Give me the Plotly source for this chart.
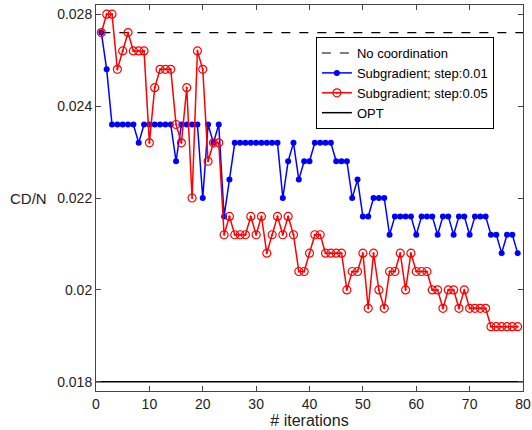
import plotly.graph_objects as go

# iterations 1..79
iters = list(range(1, 80))

# values in units of 1e-4 on the (uniform) plotted scale
blue_e4 = [256, 248, 236, 236, 236, 236, 236, 232, 236, 236,
           236, 236, 236, 236, 228, 236, 236, 236, 236, 220,
           236, 232, 236, 216, 224, 232, 232, 232, 232, 232,
           232, 232, 232, 232, 220, 228, 232, 224, 228, 228,
           232, 232, 232, 232, 228, 228, 228, 220, 224, 216,
           216, 220, 220, 220, 212, 216, 216, 216, 216, 212,
           216, 216, 216, 212, 216, 216, 212, 216, 216, 212,
           216, 216, 216, 212, 212, 208, 212, 212, 208]
red_e4 = [256, 260, 260, 248, 252, 256, 252, 252, 252, 232,
          244, 248, 248, 248, 236, 232, 244, 220, 252, 248,
          228, 232, 232, 212, 216, 212, 212, 212, 216, 212,
          216, 208, 212, 216, 212, 216, 212, 204, 204, 208,
          212, 212, 208, 208, 208, 208, 200, 204, 204, 208,
          196, 208, 200, 196, 204, 204, 208, 200, 208, 204,
          204, 204, 200, 200, 196, 200, 200, 196, 200, 196,
          196, 196, 196, 192, 192, 192, 192, 192, 192]
blue = [v * 1e-4 for v in blue_e4]
red = [v * 1e-4 for v in red_e4]

no_coord = 0.0256
opt = 0.0180

ytick_vals = [0.026, 0.024, 0.022, 0.020, 0.018]
ytick_text = ["0.028", "0.024", "0.022", "0.02", "0.018"]
xtick_vals = [0, 10, 20, 30, 40, 50, 60, 70, 80]

FONT = "Liberation Sans, Arial, sans-serif"

fig = go.Figure()
fig.add_trace(go.Scatter(x=[1, 80], y=[no_coord, no_coord], mode="lines",
                         line=dict(color="black", width=1.2, dash="dash"),
                         name="No coordination"))
fig.add_trace(go.Scatter(x=iters, y=blue, mode="lines+markers",
                         line=dict(color="#0000ff", width=1.5),
                         marker=dict(symbol="circle", size=6, color="#0000ff"),
                         name="Subgradient; step:0.01"))
fig.add_trace(go.Scatter(x=iters, y=red, mode="lines+markers",
                         line=dict(color="#ff0000", width=1.5),
                         marker=dict(symbol="circle-open-dot", size=8, color="#ff0000",
                                     line=dict(width=1.2, color="#ff0000")),
                         name="Subgradient; step:0.05"))
fig.add_trace(go.Scatter(x=[0, 80], y=[opt, opt], mode="lines",
                         line=dict(color="black", width=1.5),
                         name="OPT"))

axis_common = dict(showline=True, linecolor="#444", linewidth=1, mirror="ticks",
                   ticks="inside", ticklen=5, tickcolor="#444", showgrid=False,
                   zeroline=False, ticklabeloverflow="allow", automargin=False,
                   tickfont=dict(family=FONT, size=14, color="#222"))

fig.update_xaxes(range=[0, 80], tickvals=xtick_vals, **axis_common,
                 title=dict(text="# iterations", font=dict(family=FONT, size=16, color="#222"),
                            standoff=2))
fig.update_yaxes(range=[0.0178, 0.0262], tickvals=ytick_vals, ticktext=ytick_text,
                 **axis_common)

fig.add_annotation(text="CD/N", xref="paper", yref="y", x=-0.11, y=0.022,
                   xanchor="right", yanchor="middle", showarrow=False,
                   font=dict(family=FONT, size=15, color="#222"))

fig.update_layout(
    width=532, height=430,
    margin=dict(l=96, r=9, t=5, b=39, autoexpand=False),
    paper_bgcolor="white", plot_bgcolor="white",
    showlegend=True,
    legend=dict(x=0.515, y=0.917, xanchor="left", yanchor="top",
                bgcolor="white", bordercolor="black", borderwidth=1,
                font=dict(family=FONT, size=13, color="black"),
                itemwidth=30, tracegroupgap=0),
    font=dict(family=FONT),
)

fig.write_html("out.html")
